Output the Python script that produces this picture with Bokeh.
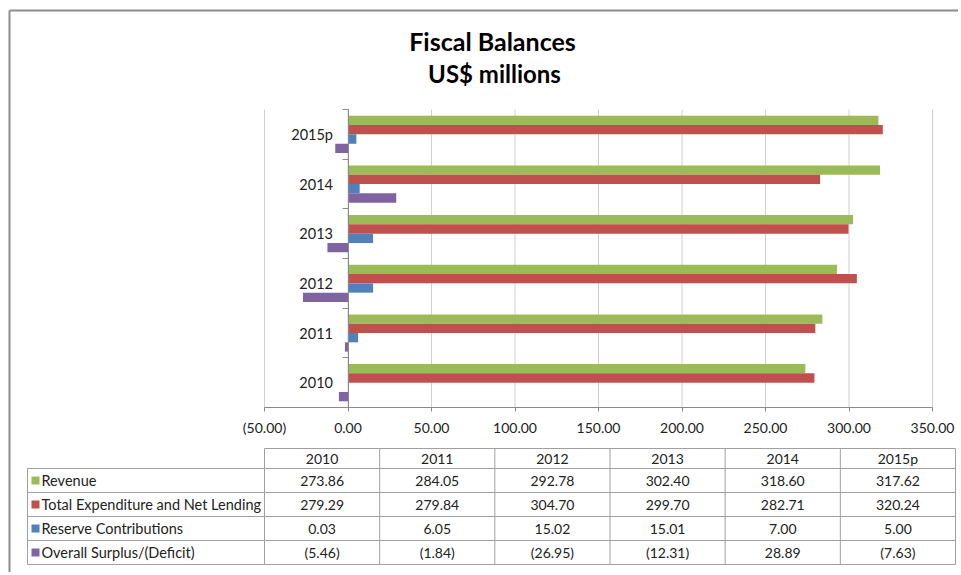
from bokeh.plotting import figure
from bokeh.models import (ColumnDataSource, Range1d, LinearAxis, FixedTicker,
                          NumeralTickFormatter)
from bokeh.transform import dodge
from bokeh.core.properties import value
from bokeh.embed import file_html
from bokeh.resources import INLINE

# ---------------- data ----------------
years = ["2010", "2011", "2012", "2013", "2014", "2015p"]
series_names = ["Revenue", "Total Expenditure and Net Lending",
                "Reserve Contributions", "Overall Surplus/(Deficit)"]
revenue = [273.86, 284.05, 292.78, 302.40, 318.60, 317.62]
expenditure = [279.29, 279.84, 304.70, 299.70, 282.71, 320.24]
reserve = [0.03, 6.05, 15.02, 15.01, 7.00, 5.00]
surplus = [-5.46, -1.84, -26.95, -12.31, 28.89, -7.63]
x_ticks = [-50, 0, 50, 100, 150, 200, 250, 300, 350]

series_values = [revenue, expenditure, reserve, surplus]
colors = ["#9BBB59", "#C0504D", "#4F81BD", "#8064A2"]

FONT = "Lato"
TXT = "#222222"
GRIDC = "#d0d0d0"
AXC = "#8a8a8a"

# ---------------- canvas geometry (pixels) ----------------
W, H = 958, 572
PL, PR, PT, PB = 264, 932, 109, 407          # bar plot region
X0, X1 = x_ticks[0], x_ticks[-1]
ncat = len(years)
kx = (PR - PL) / (X1 - X0)
ky = (PB - PT) / ncat
x_range = Range1d(X0 - PL / kx, X1 + (W - PR) / kx)
y_range = Range1d(0 - (H - PB) / ky, ncat + PT / ky)

p = figure(width=W, height=H, x_range=x_range, y_range=y_range, title=None,
           output_backend="svg", toolbar_location=None, min_border=0,
           x_axis_location=None, y_axis_location=None)
p.grid.visible = False
p.outline_line_color = None
p.extra_x_ranges = {"px": Range1d(0, W)}
p.extra_y_ranges = {"px": Range1d(H, 0)}

# outer frame (top and left edges)
p.segment(x0=[9, 9], y0=[10, 10], x1=[W, 9], y1=[10, H], line_color="#8c8c8c",
          line_width=2, x_range_name="px", y_range_name="px")

# title
p.text(x=[492], y=[40], text=["Fiscal Balances"], text_align="center",
       text_baseline="middle", text_font=value(FONT), text_font_size="25px",
       text_font_style="bold", text_color="#000000", x_range_name="px", y_range_name="px")
p.text(x=[494], y=[73], text=["US$ millions"], text_align="center",
       text_baseline="middle", text_font=value(FONT), text_font_size="24px",
       text_font_style="bold", text_color="#000000", x_range_name="px", y_range_name="px")

# ---------------- bar chart ----------------
ypos = [i + 0.5 for i in range(ncat)]  # category slots, 2010 at the bottom
src = ColumnDataSource(data=dict(year=years, ypos=ypos, rev=revenue, exp=expenditure,
                                 res=reserve, sur=surplus))

# vertical gridlines at the x ticks, spanning the category band
p.segment(x0=x_ticks, y0=[0] * len(x_ticks), x1=x_ticks, y1=[ncat] * len(x_ticks),
          line_color=GRIDC, line_width=1)

bar_h = 0.1875
offsets = [1.5 * bar_h, 0.5 * bar_h, -0.5 * bar_h, -1.5 * bar_h]
for col, off, c in zip(["rev", "exp", "res", "sur"], offsets, colors):
    p.hbar(y=dodge("ypos", off), left=0, right=col, height=bar_h,
           source=src, fill_color=c, line_color=None)

xa = LinearAxis(fixed_location=0, bounds=(X0, X1), ticker=FixedTicker(ticks=x_ticks),
                formatter=NumeralTickFormatter(format="(0.00)"),
                axis_line_color=AXC, major_tick_line_color=AXC, major_tick_out=4,
                major_tick_in=0, minor_tick_line_color=None, major_label_standoff=7,
                major_label_text_font=FONT, major_label_text_font_size="14px",
                major_label_text_color=TXT)
p.add_layout(xa, "below")

ya = LinearAxis(fixed_location=0, bounds=(0, ncat),
                ticker=FixedTicker(ticks=ypos, minor_ticks=list(range(ncat + 1))),
                major_label_overrides={y: lab for y, lab in zip(ypos, years)},
                axis_line_color=AXC, major_tick_line_color=None,
                minor_tick_line_color=AXC, minor_tick_out=6, minor_tick_in=0,
                major_label_standoff=9, major_label_text_font=FONT,
                major_label_text_font_size="14.5px", major_label_text_color=TXT)
p.add_layout(ya, "left")

# ---------------- data table ----------------
lab_left, data_left, data_right = 27, 264, 955
row_lines = [448, 468, 492, 516, 540, 564]
ncol = len(years)
cw = (data_right - data_left) / ncol
col_lines = [data_left + i * cw for i in range(ncol + 1)]

x0, y0, x1, y1 = [], [], [], []
x0.append(data_left); x1.append(data_right); y0.append(row_lines[0]); y1.append(row_lines[0])
for yy in row_lines[1:]:
    x0.append(lab_left); x1.append(data_right); y0.append(yy); y1.append(yy)
x0.append(lab_left); x1.append(lab_left); y0.append(row_lines[1]); y1.append(row_lines[-1])
for xx in col_lines:
    x0.append(xx); x1.append(xx); y0.append(row_lines[0]); y1.append(row_lines[-1])
p.segment(x0=x0, y0=y0, x1=x1, y1=y1, line_color="#a0a0a0", line_width=1,
          x_range_name="px", y_range_name="px")

hx = [data_left + (i + 0.5) * cw for i in range(ncol)]
hy = [(row_lines[0] + row_lines[1]) / 2] * ncol
p.text(x=hx, y=hy, text=years, text_align="center", text_baseline="middle",
       text_font=value(FONT), text_font_size="14px", text_color=TXT,
       x_range_name="px", y_range_name="px")


def fmt(v):
    return f"{v:.2f}" if v >= 0 else f"({abs(v):.2f})"


cx, cy, ct = [], [], []
lx, ly, lt = [], [], []
for r, (name, vals) in enumerate(zip(series_names, series_values)):
    yc = (row_lines[r + 1] + row_lines[r + 2]) / 2
    lx.append(lab_left + 14); ly.append(yc); lt.append(name)
    for i, v in enumerate(vals):
        cx.append(hx[i]); cy.append(yc); ct.append(fmt(v))
p.text(x=cx, y=cy, text=ct, text_align="center", text_baseline="middle",
       text_font=value(FONT), text_font_size="14px", text_color=TXT,
       x_range_name="px", y_range_name="px")
p.text(x=lx, y=ly, text=lt, text_align="left", text_baseline="middle",
       text_font=value(FONT), text_font_size="14.5px", text_color=TXT,
       x_range_name="px", y_range_name="px")
p.rect(x=[lab_left + 8] * 4, y=ly, width=8, height=8, fill_color=colors, line_color=None,
       x_range_name="px", y_range_name="px")

open("out.html", "w").write(file_html(p, INLINE))
